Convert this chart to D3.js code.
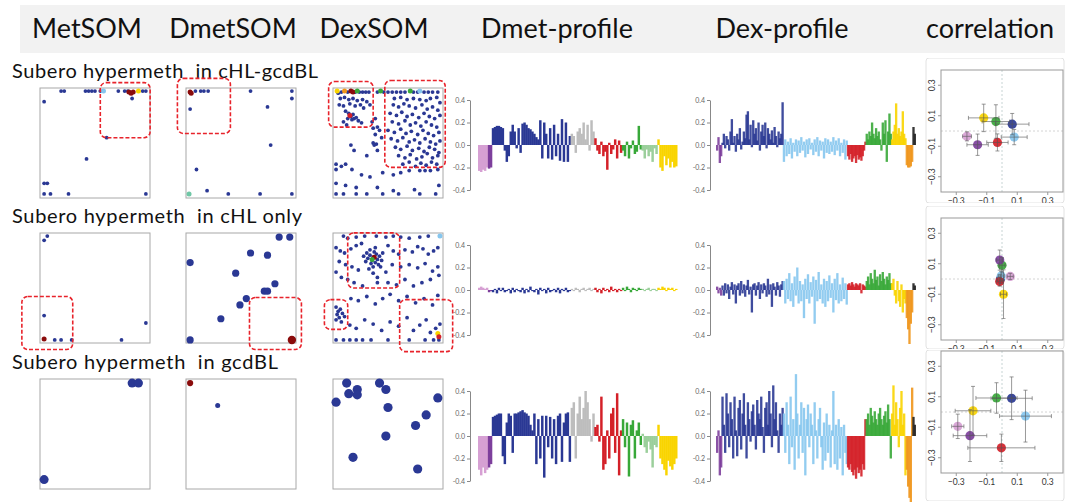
<!DOCTYPE html>
<meta charset="utf-8" />
<style>
  body { margin: 0; background: #fff; }
  svg text { font-family: Lato, "Open Sans", sans-serif; }
</style>
<script src="https://d3js.org/d3.v7.min.js"></script>
<div id="chart"></div>
<script>
// ---------- data ----------
const headers = ["MetSOM", "DmetSOM", "DexSOM", "Dmet-profile", "Dex-profile", "correlation"];
const rowLabels = ["Subero hypermeth  in cHL-gcdBL", "Subero hypermeth  in cHL only", "Subero hypermeth  in gcdBL"];

// SOM spots, [u, v] in grid units (0..100, v from top)
const metSom1 = [[18,1],[21,1],[41,1],[44,1],[47,1],[50,1],[55,1],[72,1],[78,1],[81,1],[95,1],[98,1],[85,8],[2,11],[61,45],[42,65],[2,88],[5,88],[2,98],[8,98],[25,98],[98,98]];
const metSom1Col = [[58,1,"lightblue"],[91,1,"yellow"],[82,2,"darkred"],[84,3,"darkred"],[86,2,"darkred"]];
const dmetSom1 = [[7,1],[12,1],[15,1],[19,1],[59,1],[98,1],[98,8],[2,18],[75,16],[78,52],[8,75],[18,95],[38,98],[68,98],[98,98]];
const dmetSom1Col = [[2,2,"darkred"],[3,3,"darkred"],[1,98,"teal"]];
const dexSom1 = [
  [3,3],[6,2],[12,2],[19,2],[23,2],[26,2],[29,2],[32,2],
  [5,8],[9,7],[13,9],[17,8],[21,10],[26,9],[30,11],[4,14],[8,15],[14,13],[19,15],[24,14],[27,17],[33,14],
  [10,20],[13,22],[15,25],[17,23],[12,27],[16,28],[18,27],[20,26],[22,29],[8,30],[25,31],[11,33],
  [35,30],[38,27],[36,36],[40,35],[38,42],[36,50],[37,52],[39,51],[44,45],[42,38],
  [40,2],[46,2],[50,2],[54,2],[58,2],[62,2],[66,2],[74,2],[78,2],[84,2],[88,2],[92,2],[97,2],
  [56,8],[62,7],[68,9],[74,8],[80,9],[86,10],[90,8],[96,7],[99,12],
  [55,14],[60,16],[65,13],[70,15],[76,17],[82,14],[87,18],[92,16],[97,19],
  [52,22],[58,24],[63,21],[68,25],[73,23],[79,26],[84,22],[89,25],[94,27],[99,24],
  [54,30],[60,32],[66,29],[71,33],[76,31],[81,34],[86,30],[91,33],[96,35],
  [50,38],[56,40],[62,37],[67,41],[72,39],[78,42],[83,38],[88,41],[93,43],[98,40],
  [53,46],[59,48],[64,45],[70,49],[75,47],[80,50],[85,46],[90,49],[95,51],[99,48],
  [57,54],[62,56],[68,53],[73,57],[79,55],[84,58],[89,54],[94,56],[98,59],
  [60,62],[66,64],[71,61],[77,65],[82,63],[87,60],[92,64],[97,62],
  [64,70],[70,68],[76,72],[81,69],[86,71],[91,68],[96,70],
  [15,52],[18,57],[30,62],[40,57],
  [1,70],[1,75],[6,72],[10,70],[16,75],[25,80],[33,82],[45,78],[55,80],[62,78],[70,76],[80,76],[85,76],[90,76],[97,75],
  [1,88],[10,90],[20,92],[40,92],[55,95],[75,94],[98,90],
  [1,98],[8,98],[20,98],[30,98],[45,98],[60,98],[80,98],[95,98]
];
const dexSom1Col = [[2,1,"yellow"],[9,1,"orange"],[15,1,"darkred"],[17,2,"darkred"],[21,1,"green"],[43,1,"green"],[71,1,"green"],[80,1,"lightblue"],[14,24,"red"]];

const metSom2 = [[2,5],[5,1],[2,76],[98,83],[75,99],[12,99],[18,99],[28,99]];
const metSom2Col = [[2,98,"darkred"]];
const dmetSom2 = [[2,26],[59,17],[75,19],[45,36],[82,46],[72,53],[75,53],[55,60],[49,66],[31,79],[2,99],[86,2],[96,2]];
const dmetSom2Col = [[98,99,"darkred"]];
const dexSom2 = [
  [8,1],[12,3],[20,2],[28,1],[39,1],[48,2],[55,1],[62,2],[70,3],[80,2],[88,1],
  [36,21],[33,19],[39,18],[35,24],[40,23],[31,22],[37,16],[42,20],[34,27],[38,26],[30,17],[44,24],[29,25],[41,28],[36,30],[33,14],[45,17],[27,20],[38,12],[43,30],[32,32],[36,36],[40,40],
  [1,12],[5,15],[9,17],[15,13],[20,10],[25,8],[50,10],[55,15],[60,18],[66,14],[73,16],[78,11],[83,13],[88,18],[93,15],[97,12],
  [4,25],[10,28],[16,30],[22,33],[48,35],[54,28],[62,30],[70,28],[78,31],[85,27],[92,34],[97,30],
  [1,35],[6,40],[12,42],[18,45],[26,48],[40,45],[50,45],[58,47],[66,42],[74,48],[82,45],[90,42],[98,38],
  [1,68],[3,72],[5,70],[2,75],[4,78],[7,74],[9,77],[1,80],[6,82],
  [15,60],[22,62],[30,58],[38,65],[45,60],[52,56],[60,62],[68,58],[76,64],[84,60],[92,66],[97,57],
  [14,85],[20,88],[28,80],[36,84],[44,90],[52,82],[60,86],[68,78],[74,90],[80,85],[86,80],[90,92],[95,88],[99,84],
  [1,99],[8,99],[14,99],[20,99],[26,99],[34,99],[50,99],[70,99],[85,99],[93,99],[98,99]
];
const dexSom2Col = [[37,21,"darkred"],[35,23,"green"],[97,93,"yellow"],[98,96,"red"],[99,1,"lightblue"]];

const metSom3 = [[85,2],[91,2],[2,93]];
const dmetSom3 = [[28,23]];
const dmetSom3Col = [[2,2,"darkred"]];
const dexSom3 = [[11,2],[42,2],[21,8],[21,13],[13,12],[48,8],[1,20],[97,16],[50,25],[86,32],[76,42],[48,52],[17,72],[78,83]];

// highlighted SOM regions [u0, v0, u1, v1]
const boxes1 = [[[55,-7,102,45]], [[-10,-11,40,41]], [[-6,-8,36,35],[47,-9,104,73]]];
const boxes2 = [[[-19,58,29,108]], [[58,59,107,108]], [[12,-2,61,50],[-10,61,12,89],[61,61,111,110]]];

// profiles
const dmetGroups = ["pink","purple","navy","gray","red","green","lightgreen","yellow"];
const dmetRow1 = [
  [-0.23,-0.24,-0.22,-0.23,-0.20],
  [-0.21,-0.20],
  [0.15,0.16,0.17,0.17,0.16,0.15,-0.05,-0.15,-0.10,0.12,0.18,0.12,-0.03,0.15,-0.07,0.19,0.20,0.18,0.15,0.14,0.12,0.10,0.07,0.05,0.22,-0.12,0.20,0.10,-0.12,0.15,-0.13,0.18,-0.10,0.10,-0.14,0.23,-0.15,0.20,-0.15,0.08],
  [0.10,0.08,-0.07,0.12,0.15,0.10,0.20,0.05,0.18,-0.05,0.22,0.12],
  [0.06,-0.05,-0.08,0.03,-0.10,-0.06,-0.22,0.02,-0.08,-0.04,0.05,-0.12,0.04,-0.07],
  [-0.05,-0.10,0.03,-0.12,-0.03,0.04,-0.08,-0.06,0.17,-0.04],
  [-0.05,-0.12,-0.04,-0.10,-0.06,-0.15,-0.03,-0.08],
  [0.05,-0.20,-0.23,-0.10,-0.18,-0.12,-0.20,-0.15,-0.20,-0.19]
];
const dmetRow2 = [
  [0.02,0.03,0.02,0.01,0.02],
  [-0.02,-0.01],
  [-0.02,0.01,-0.03,0.02,-0.01,0.02,-0.02,-0.01,0.01,-0.03,0.02,-0.02,0.01,-0.01,-0.02,0.02,-0.03,0.01,-0.02,0.03,-0.01,-0.02,0.01,-0.04,0.02,-0.01,0.01,-0.03,0.02,-0.02,-0.01,0.01,-0.02,0.02,-0.03,0.01,-0.01,0.02,-0.02,-0.01],
  [0.01,-0.01,0.02,0.01,-0.02,0.01,0.02,-0.01,0.01,0.02,-0.01,0.01],
  [0.02,-0.02,0.01,-0.03,0.02,-0.01,0.01,-0.02,0.03,-0.01,0.01,-0.02,0.01,-0.01],
  [0.02,-0.01,0.03,0.01,-0.02,0.02,0.01,-0.01,0.02,0.01],
  [0.01,-0.01,0.01,0.02,-0.01,0.01,0.01,-0.01],
  [0.02,0.01,0.03,0.02,-0.01,0.02,0.01,0.02,-0.01,0.01]
];
const dmetRow3 = [
  [-0.30,-0.35,-0.28,-0.33,-0.30],
  [-0.28,-0.25],
  [0.17,0.18,0.19,0.20,0.20,-0.18,-0.25,0.12,0.20,0.18,-0.15,0.20,0.20,0.21,0.22,0.23,0.21,0.20,0.18,0.10,0.05,0.20,-0.25,0.15,-0.20,0.18,-0.37,0.18,-0.10,0.17,-0.20,0.15,-0.25,0.18,0.20,-0.23,0.12,0.20,0.21,-0.23],
  [0.25,0.30,-0.20,0.20,0.35,0.15,0.25,0.40,0.30,0.15,-0.05,0.20],
  [0.08,0.10,-0.05,0.35,-0.30,-0.25,0.05,-0.20,0.20,0.25,-0.15,0.38,-0.35,0.05],
  [0.15,-0.10,0.12,-0.36,0.10,0.14,-0.20,0.05,0.12,-0.08],
  [0.02,-0.10,-0.15,-0.05,-0.12,-0.28,-0.08,-0.10],
  [0.10,-0.20,-0.25,-0.30,-0.35,-0.22,-0.27,-0.30,-0.25,-0.20]
];

const dexGroups = ["purple","navy","lightblue","red","green","yellow","orange","black"];
const dexRow1 = [
  [-0.05,0.07,-0.16,-0.10],
  [0.02,0.10,-0.03,0.08,0.05,-0.05,0.12,0.23,0.02,0.08,-0.06,0.10,0.05,0.15,-0.04,0.03,0.12,0.06,0.27,0.30,0.05,0.18,-0.02,0.22,0.10,0.15,0.04,0.20,-0.05,0.12,0.18,0.08,0.20,-0.03,0.15,0.10,0.05,0.13,0.02,0.16,0.08,-0.02,0.12,0.06,0.10,0.38],
  [-0.15,0.05,-0.10,0.03,-0.08,0.06,-0.12,0.02,-0.06,0.05,-0.10,0.04,-0.07,0.07,-0.05,0.03,-0.11,0.05,-0.08,0.06,-0.04,0.02,-0.09,0.05,-0.06,0.07,-0.10,0.04,-0.05,0.03,-0.12,0.06,-0.07,0.05,-0.08,0.03,-0.06,0.07,-0.09,0.04,-0.05,0.06,-0.10,0.02,-0.07,0.05,-0.13,0.04],
  [-0.10,-0.13,-0.08,-0.15,-0.12,-0.10,-0.16,-0.09,-0.13,-0.11,-0.14,-0.10,-0.05,0.03],
  [0.10,0.05,0.12,0.08,0.20,0.10,0.06,0.15,0.08,0.12,0.05,-0.05,0.20,0.10,0.22,-0.15,0.12,0.28,0.10],
  [0.05,0.12,0.18,0.37,0.10,0.15,0.08,0.12,0.30,0.10,0.06],
  [-0.18,-0.20,-0.20,-0.19,-0.15],
  [0.16,0.10]
];
const dexRow2 = [
  [0.03,-0.03,0.02,-0.05],
  [0.04,-0.05,0.06,-0.03,0.05,-0.08,0.03,0.07,-0.04,0.05,-0.12,0.04,0.06,-0.05,0.08,-0.03,0.05,-0.06,0.04,0.09,-0.04,0.03,-0.20,0.05,0.06,-0.05,0.04,0.07,-0.08,0.05,-0.03,0.06,0.04,-0.06,0.10,-0.04,0.05,-0.15,0.06,0.03,-0.05,0.07,0.04,-0.06,0.05,0.08],
  [0.08,-0.12,0.10,-0.08,0.15,-0.10,0.06,-0.15,0.12,-0.05,0.20,-0.12,0.08,-0.10,0.05,-0.25,0.10,-0.08,0.14,-0.12,0.07,-0.06,0.12,-0.30,0.09,-0.10,0.16,-0.08,0.05,-0.12,0.10,-0.15,0.08,-0.10,0.13,-0.07,0.06,-0.20,0.10,-0.09,0.15,-0.12,0.05,-0.10,0.11,-0.08,0.06,-0.13],
  [0.05,0.06,0.04,0.07,0.05,0.03,0.06,0.05,0.04,0.06,-0.03,0.05,0.04,0.03],
  [0.08,0.12,0.05,0.15,0.10,0.06,0.18,0.09,0.12,0.04,0.14,0.08,0.16,0.10,0.05,0.12,0.09,0.15,0.06],
  [0.06,0.10,-0.05,-0.12,0.08,-0.10,-0.15,0.05,-0.20,-0.08,-0.12],
  [-0.25,-0.35,-0.48,-0.30,-0.20],
  [0.06,0.04]
];
const dexRow3 = [
  [-0.15,0.05,-0.35,-0.28],
  [0.35,0.10,-0.15,0.38,0.20,-0.10,0.30,0.15,-0.20,0.35,0.05,-0.18,0.25,0.32,-0.12,0.20,0.38,0.10,-0.20,0.30,0.15,-0.05,0.22,0.28,0.10,-0.12,0.32,0.20,0.15,0.35,0.08,-0.15,0.25,0.30,0.10,0.40,0.20,-0.10,0.45,0.15,0.30,0.05,-0.15,0.20,0.10,0.25],
  [0.20,-0.15,0.30,0.10,-0.25,0.35,-0.10,0.15,-0.30,0.55,0.20,-0.20,0.10,0.30,-0.15,0.25,-0.35,0.15,0.28,-0.10,0.20,0.10,-0.25,0.30,0.05,-0.20,0.15,0.25,-0.10,-0.30,0.12,-0.22,0.20,-0.15,0.10,-0.28,0.05,0.40,-0.25,0.10,-0.30,0.15,-0.20,0.08,-0.35,0.10,-0.15,-0.25],
  [-0.28,-0.30,-0.25,-0.32,-0.35,-0.30,-0.38,-0.28,-0.33,-0.30,-0.36,-0.25,-0.30,0.15],
  [0.15,0.20,0.10,0.25,0.18,0.12,0.22,0.15,0.10,0.20,0.25,0.15,0.10,0.18,0.22,0.12,0.28,0.15,-0.20],
  [0.20,0.45,0.10,0.30,0.15,-0.10,0.25,0.40,0.10,0.20,-0.35],
  [-0.30,-0.45,-0.55,-0.60,0.43],
  [0.17,0.10]
];

// correlation: mean and error per cluster
const corrKeys = ["yellow","green","navy","lightblue","pink","purple","red"];
const corr1X = [-0.12,-0.04,0.067,0.08,-0.23,-0.16,-0.03];
const corr1Y = [0.086,0.062,0.045,-0.04,-0.035,-0.09,-0.075];
const corr1Xe = [0.10,0.09,0.11,0.085,0.03,0.07,0.07];
const corr1Ye = [0.09,0.11,0.07,0.05,0.03,0.07,0.056];
const corr2X = [0.01,0.0,-0.01,-0.005,0.054,-0.015,-0.015];
const corr2Y = [-0.10,0.09,0.0,0.02,0.017,0.124,-0.017];
const corr2Xe = [0.02,0.02,0.02,0.02,0.02,0.02,0.02];
const corr2Ye = [0.16,0.05,0.03,0.03,0.02,0.066,0.03];
const corr3X = [-0.19,-0.036,0.063,0.154,-0.29,-0.21,-0.004];
const corr3Y = [0.008,0.092,0.09,-0.027,-0.094,-0.155,-0.235];
const corr3Xe = [0.117,0.135,0.135,0.17,0.04,0.11,0.22];
const corr3Ye = [0.16,0.10,0.14,0.17,0.08,0.17,0.09];
const corrTicks = [-0.3,-0.1,0.1,0.3];

// ---------- styles ----------
const palette = {
  navy: "#2a3894", darkred: "#8a0b0b", red: "#d42028", yellow: "#f9d400", lightblue: "#86c6ee",
  green: "#38a839", lightgreen: "#9bcf9b", pink: "#d6a0d3", purple: "#7d3f9c", gray: "#bdbdbd",
  orange: "#f0961c", black: "#222", teal: "#6fc7a6"
};

const svg = d3.select("#chart").append("svg")
  .attr("width", 1065).attr("height", 502);

// header band
svg.append("rect").attr("x", 20).attr("y", 5).attr("width", 1045).attr("height", 48).attr("fill", "#f2f2f2");
const headerCx = [87, 233, 374, 557, 782, 990];
headers.forEach((h, i) => {
  svg.append("text").attr("x", headerCx[i]).attr("y", 38).attr("text-anchor", "middle")
    .attr("font-size", 27).attr("fill", "#111").text(h);
});

const labelY = [78, 223, 369];
const labelW = [306, 290, 266];
rowLabels.forEach((t, i) => {
  svg.append("text").attr("x", 12).attr("y", labelY[i])
    .attr("font-size", 20).attr("fill", "#111")
    .attr("textLength", labelW[i]).attr("lengthAdjust", "spacing")
    .style("white-space", "pre").text(t);
});

// ---------- SOM panels ----------
const somX = [40, 186, 333];
const somTop = [88, 233, 379];
const somSize = 110;

function drawSom(bx, by, pts, cols, r, boxes) {
  const g = svg.append("g");
  const u = d3.scaleLinear([0, 100], [bx + 2, bx + somSize - 2]);
  const v = d3.scaleLinear([0, 100], [by + 2, by + somSize - 2]);
  g.append("rect").attr("x", bx).attr("y", by).attr("width", somSize).attr("height", somSize)
    .attr("fill", "#fff").attr("stroke", "#a8a8a8").attr("stroke-width", 1);
  g.selectAll("circle.n").data(pts).join("circle").attr("class", "n")
    .attr("cx", d => u(d[0])).attr("cy", d => v(d[1])).attr("r", r)
    .attr("fill", palette.navy);
  g.selectAll("circle.c").data(cols || []).join("circle").attr("class", "c")
    .attr("cx", d => u(d[0])).attr("cy", d => v(d[1])).attr("r", r + 0.6)
    .attr("fill", d => palette[d[2]]);
  g.selectAll("rect.hl").data(boxes || []).join("rect").attr("class", "hl")
    .attr("x", d => u(d[0])).attr("y", d => v(d[1]))
    .attr("width", d => u(d[2]) - u(d[0])).attr("height", d => v(d[3]) - v(d[1]))
    .attr("rx", 6).attr("fill", "none").attr("stroke", "#e8232b")
    .attr("stroke-width", 1.6).attr("stroke-dasharray", "4,2");
}

drawSom(somX[0], somTop[0], metSom1, metSom1Col, 1.9, boxes1[0]);
drawSom(somX[1], somTop[0], dmetSom1, dmetSom1Col, 1.9, boxes1[1]);
drawSom(somX[2], somTop[0], dexSom1, dexSom1Col, 1.9, boxes1[2]);
drawSom(somX[0], somTop[1], metSom2, metSom2Col, 1.9, boxes2[0]);
drawSom(somX[1], somTop[1], dmetSom2, dmetSom2Col, 3.6, boxes2[1]);
drawSom(somX[2], somTop[1], dexSom2, dexSom2Col, 1.9, boxes2[2]);
drawSom(somX[0], somTop[2], metSom3, [], 4.5, []);
drawSom(somX[1], somTop[2], dmetSom3, dmetSom3Col, 2.5, []);
drawSom(somX[2], somTop[2], dexSom3, [], 4.6, []);

// ---------- profiles ----------
const profTop = [100, 245, 391];
const profH = 90;

function drawProfile(axisX, x0, x1, top, groups, values, opacity, extra) {
  const items = groups.flatMap((g, gi) => values[gi].map(v => ({ g, v })));
  const xs = d3.scaleBand().domain(d3.range(items.length)).range([x0, x1]);
  const y = d3.scaleLinear([-0.4, 0.4], [top + profH, top]);
  const g = svg.append("g");
  g.selectAll("rect").data(items).join("rect")
    .attr("x", (d, i) => xs(i)).attr("width", xs.bandwidth() + extra)
    .attr("y", d => y(Math.max(0, d.v)))
    .attr("height", d => Math.abs(y(d.v) - y(0)))
    .attr("fill", d => palette[d.g]).attr("opacity", opacity);
  const ax = svg.append("g").attr("transform", `translate(${axisX},0)`)
    .call(d3.axisLeft(y).tickValues([-0.4, -0.2, 0, 0.2, 0.4]).tickSize(3).tickSizeOuter(0)
      .tickFormat(d => d.toFixed(1)));
  ax.select(".domain").attr("stroke", "#888");
  ax.selectAll(".tick line").attr("stroke", "#888");
  ax.selectAll(".tick text").attr("font-size", 7).attr("fill", "#666").attr("x", -5);
}

const dmetRows = [dmetRow1, dmetRow2, dmetRow3];
const dexRows = [dexRow1, dexRow2, dexRow3];
for (let r = 0; r < 3; r++) {
  drawProfile(470, 478, 677, profTop[r], dmetGroups, dmetRows[r], 1, 0.5);
  drawProfile(710, 716, 915, profTop[r], dexGroups, dexRows[r], 0.9, 1.0);
}

// ---------- correlation panels ----------
const corrFrameTop = [58, 206, 350];
const corrFrameBottom = [203, 349, 501];
const corrTop = [70, 218, 351];
const corrLeft = 941;
const corrSize = 122;

function drawCorr(i, X, Y, Xe, Ye) {
  const clipId = "clip" + i;
  svg.append("clipPath").attr("id", clipId).append("rect")
    .attr("x", 924).attr("y", corrFrameTop[i]).attr("width", 141)
    .attr("height", corrFrameBottom[i] - corrFrameTop[i]);
  const g = svg.append("g").attr("clip-path", `url(#${clipId})`);
  g.append("rect").attr("x", 926).attr("y", corrFrameTop[i]).attr("width", 138)
    .attr("height", corrFrameBottom[i] - corrFrameTop[i]).attr("rx", 3)
    .attr("fill", "#fff").attr("stroke", "#e2e2e2");
  const top = corrTop[i];
  const x = d3.scaleLinear([-0.4, 0.4], [corrLeft, corrLeft + corrSize]);
  const y = d3.scaleLinear([-0.4, 0.4], [top + corrSize, top]);
  g.append("line").attr("x1", x(0)).attr("x2", x(0)).attr("y1", top).attr("y2", top + corrSize)
    .attr("stroke", "#b9c9c9").attr("stroke-dasharray", "2,2").attr("stroke-width", 0.8);
  g.append("line").attr("x1", corrLeft).attr("x2", corrLeft + corrSize).attr("y1", y(0)).attr("y2", y(0))
    .attr("stroke", "#c9c9c9").attr("stroke-dasharray", "2,2").attr("stroke-width", 0.8);
  g.append("rect").attr("x", corrLeft).attr("y", top).attr("width", corrSize).attr("height", corrSize)
    .attr("fill", "none").attr("stroke", "#999");
  corrTicks.forEach(t => {
    const lab = String(t).replace("-", "\u2212");
    g.append("line").attr("x1", x(t)).attr("x2", x(t)).attr("y1", top + corrSize).attr("y2", top + corrSize + 3).attr("stroke", "#999");
    g.append("text").attr("x", x(t)).attr("y", top + corrSize + 12).attr("text-anchor", "middle")
      .attr("font-size", 8.5).attr("fill", "#333").text(lab);
    g.append("line").attr("x1", corrLeft - 3).attr("x2", corrLeft).attr("y1", y(t)).attr("y2", y(t)).attr("stroke", "#999");
    g.append("text").attr("transform", `translate(${corrLeft - 6},${y(t)}) rotate(-90)`)
      .attr("text-anchor", "middle").attr("font-size", 8.5).attr("fill", "#333").text(lab);
  });
  const pts = corrKeys.map((k, j) => ({ k, x: X[j], y: Y[j], xe: Xe[j], ye: Ye[j] }));
  g.selectAll("circle.pt").data(pts).join("circle").attr("class", "pt")
    .attr("cx", d => x(d.x)).attr("cy", d => y(d.y)).attr("r", 4.6)
    .attr("fill", d => palette[d.k]).attr("fill-opacity", 0.92);
  const eb = g.append("g").attr("stroke", "#555").attr("stroke-width", 0.7).attr("opacity", 0.85);
  pts.forEach(d => {
    eb.append("line").attr("x1", x(d.x - d.xe)).attr("x2", x(d.x + d.xe)).attr("y1", y(d.y)).attr("y2", y(d.y));
    eb.append("line").attr("x1", x(d.x)).attr("x2", x(d.x)).attr("y1", y(d.y - d.ye)).attr("y2", y(d.y + d.ye));
    [d.x - d.xe, d.x + d.xe].forEach(v => eb.append("line").attr("x1", x(v)).attr("x2", x(v)).attr("y1", y(d.y) - 2).attr("y2", y(d.y) + 2));
    [d.y - d.ye, d.y + d.ye].forEach(v => eb.append("line").attr("x1", x(d.x) - 2).attr("x2", x(d.x) + 2).attr("y1", y(v)).attr("y2", y(v)));
  });
}

drawCorr(0, corr1X, corr1Y, corr1Xe, corr1Ye);
drawCorr(1, corr2X, corr2Y, corr2Xe, corr2Ye);
drawCorr(2, corr3X, corr3Y, corr3Xe, corr3Ye);
</script>
